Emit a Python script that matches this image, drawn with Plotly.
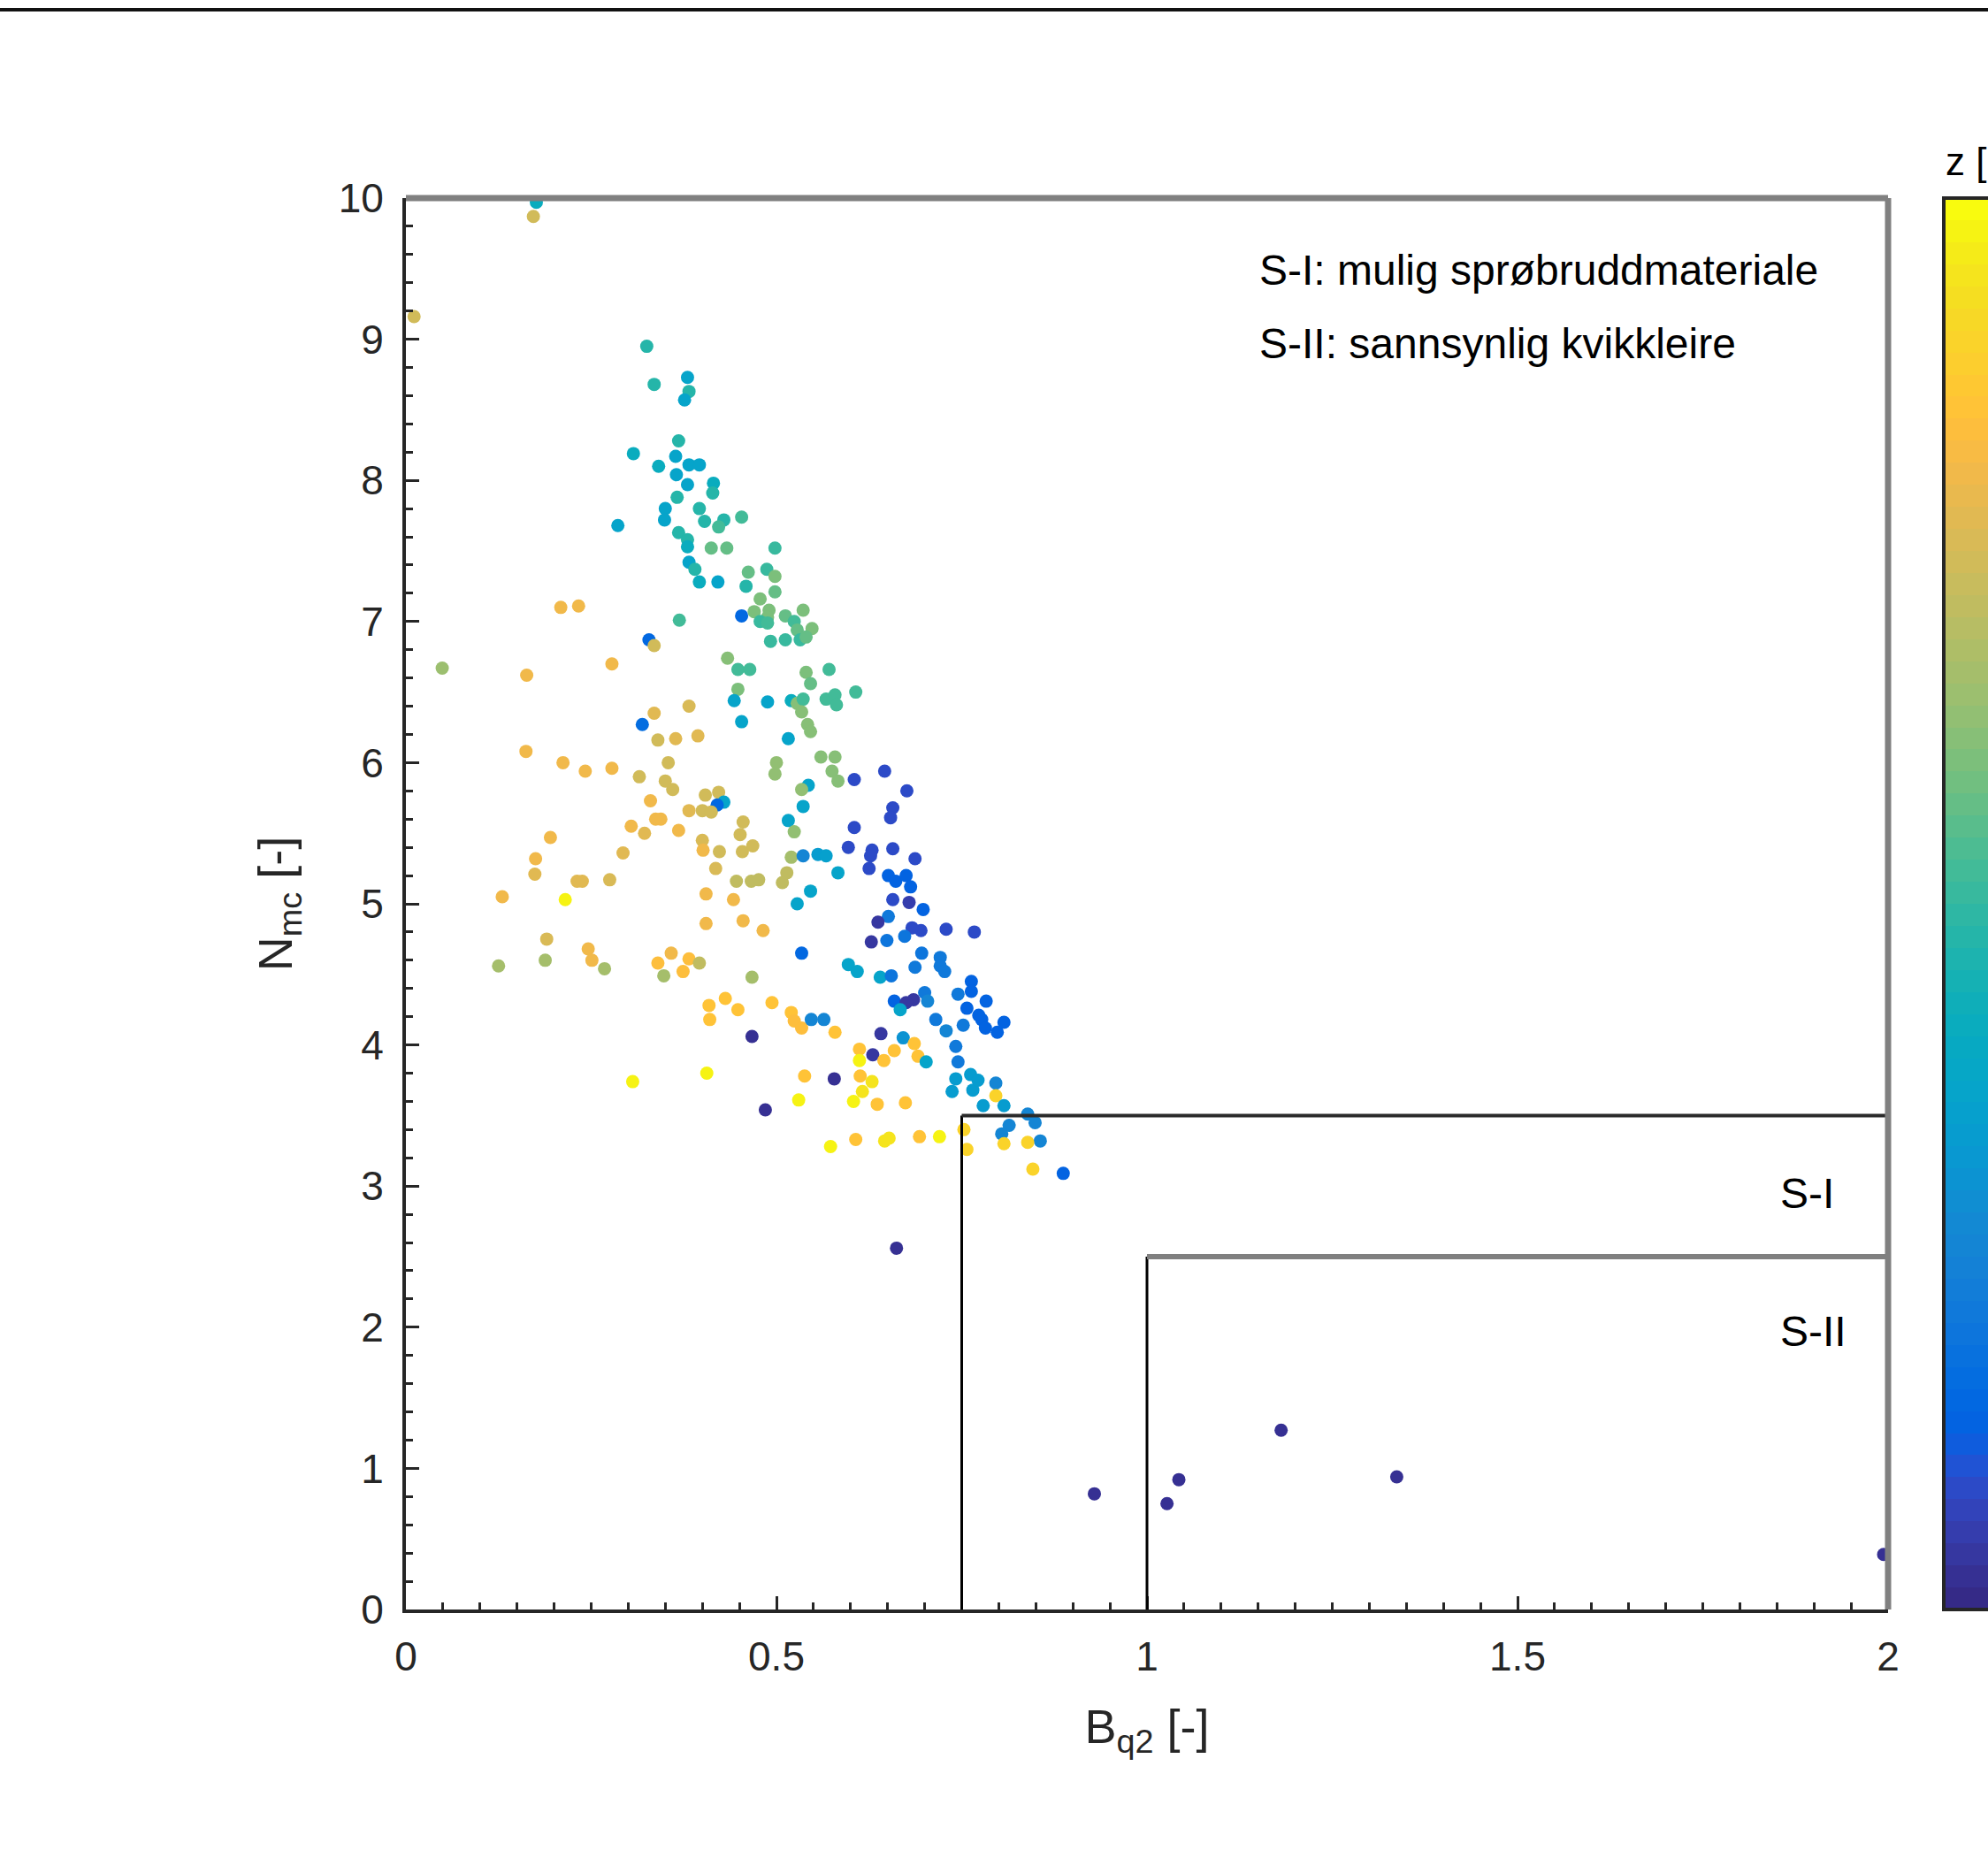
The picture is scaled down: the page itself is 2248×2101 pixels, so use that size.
import plotly.graph_objects as go

# ---- Bq2 / Nmc measurements, grouped by zone of the chart; z = depth [m] ----
bq2_upper = [0.176, 0.172, 0.011, 0.325, 0.335, 0.380, 0.382, 0.376, 0.368, 0.307,
             0.364, 0.382, 0.396, 0.341, 0.365, 0.380, 0.415, 0.414, 0.366, 0.350,
             0.349, 0.396, 0.403, 0.429, 0.422, 0.453, 0.286, 0.368, 0.380, 0.380,
             0.412, 0.433, 0.498, 0.382, 0.390, 0.396, 0.421, 0.462, 0.487, 0.498,
             0.459, 0.498, 0.478, 0.209, 0.233, 0.470, 0.490, 0.488, 0.453, 0.478,
             0.488, 0.512, 0.536, 0.524, 0.548, 0.528, 0.369, 0.328, 0.335, 0.492,
             0.512, 0.532, 0.540]
nmc_upper = [9.97, 9.87, 9.16, 8.95, 8.68, 8.73, 8.63, 8.57, 8.28, 8.19,
             8.17, 8.11, 8.11, 8.10, 8.04, 7.97, 7.98, 7.91, 7.88, 7.80,
             7.72, 7.80, 7.71, 7.72, 7.67, 7.74, 7.68, 7.63, 7.58, 7.53,
             7.52, 7.52, 7.52, 7.42, 7.37, 7.28, 7.28, 7.35, 7.37, 7.32,
             7.25, 7.21, 7.16, 7.10, 7.11, 7.07, 7.08, 7.03, 7.04, 7.00,
             6.99, 7.04, 7.08, 7.00, 6.95, 6.94, 7.01, 6.87, 6.83, 6.86,
             6.87, 6.87, 6.89]
z_upper = [8.4, 14.8, 14.8, 9.4, 9.4, 7.4, 9.4, 7.4, 9.4, 8.4,
           7.4, 7.4, 7.4, 8.4, 7.4, 7.4, 8.4, 9.4, 9.4, 7.4,
           7.4, 9.4, 9.4, 9.4, 10.6, 10.6, 7.4, 9.4, 9.4, 8.4,
           11.4, 11.4, 10.0, 7.4, 9.4, 8.4, 7.4, 11.4, 10.0, 12.0,
           9.4, 11.4, 12.0, 16.0, 16.0, 12.0, 12.0, 12.0, 3.0, 10.0,
           10.6, 11.4, 12.0, 10.6, 12.0, 11.4, 10.6, 3.0, 14.8, 10.0,
           10.0, 10.0, 11.4]

bq2_mid = [0.049, 0.163, 0.278, 0.434, 0.448, 0.464, 0.540, 0.546, 0.571, 0.448,
           0.443, 0.488, 0.520, 0.528, 0.536, 0.567, 0.579, 0.581, 0.607, 0.382,
           0.335, 0.319, 0.534, 0.453, 0.542, 0.546, 0.516, 0.340, 0.364, 0.394,
           0.162, 0.212, 0.242, 0.278, 0.315, 0.354, 0.350, 0.360, 0.500, 0.498,
           0.560, 0.579, 0.575, 0.583, 0.605, 0.543, 0.534, 0.404, 0.422, 0.429,
           0.420, 0.536, 0.330, 0.382, 0.400, 0.412, 0.337, 0.344, 0.516, 0.304,
           0.322, 0.368, 0.455, 0.451, 0.605, 0.524, 0.195, 0.400, 0.401, 0.423,
           0.454, 0.468, 0.597, 0.293, 0.175, 0.174, 0.520, 0.536, 0.556, 0.567,
           0.583, 0.418, 0.231, 0.238, 0.275, 0.446, 0.466, 0.476, 0.508, 0.514,
           0.546, 0.528, 0.130, 0.215, 0.405, 0.442, 0.405, 0.455, 0.482, 0.190,
           0.534, 0.246, 0.251, 0.125, 0.188, 0.268, 0.358, 0.340, 0.382, 0.374,
           0.396, 0.348, 0.467, 0.597, 0.609, 0.409, 0.431, 0.448, 0.494, 0.520]
nmc_mid = [6.67, 6.62, 6.70, 6.74, 6.66, 6.66, 6.64, 6.56, 6.66, 6.52,
           6.44, 6.43, 6.44, 6.42, 6.45, 6.45, 6.48, 6.41, 6.50, 6.40,
           6.35, 6.27, 6.36, 6.29, 6.27, 6.22, 6.17, 6.16, 6.17, 6.19,
           6.08, 6.00, 5.94, 5.96, 5.90, 6.00, 5.87, 5.81, 6.00, 5.92,
           6.04, 6.04, 5.94, 5.87, 5.88, 5.84, 5.81, 5.77, 5.79, 5.72,
           5.70, 5.69, 5.73, 5.66, 5.66, 5.65, 5.60, 5.60, 5.59, 5.55,
           5.50, 5.52, 5.58, 5.49, 5.54, 5.51, 5.47, 5.45, 5.38, 5.37,
           5.37, 5.41, 5.40, 5.36, 5.32, 5.21, 5.33, 5.34, 5.35, 5.34,
           5.22, 5.25, 5.16, 5.16, 5.17, 5.16, 5.16, 5.17, 5.15, 5.22,
           5.09, 5.00, 5.05, 5.03, 5.07, 5.03, 4.86, 4.88, 4.81, 4.75,
           4.65, 4.68, 4.60, 4.56, 4.60, 4.54, 4.65, 4.58, 4.61, 4.52,
           4.58, 4.49, 4.48, 4.57, 4.52, 4.28, 4.33, 4.25, 4.30, 4.23]
z_mid = [13.0, 16.0, 16.0, 12.4, 10.6, 10.6, 12.0, 11.4, 10.6, 12.0,
         7.4, 7.4, 8.4, 12.4, 10.6, 10.6, 10.6, 10.6, 10.6, 15.2,
         15.6, 3.4, 12.4, 7.4, 12.4, 12.4, 7.4, 14.8, 15.4, 15.4,
         16.0, 16.0, 16.0, 16.0, 14.8, 14.8, 14.8, 14.8, 12.8, 12.8,
         12.4, 12.4, 12.4, 12.4, 1.6, 7.4, 12.8, 14.8, 14.8, 7.4,
         3.0, 7.4, 16.0, 15.4, 14.8, 14.8, 16.2, 16.2, 7.4, 16.0,
         15.6, 16.0, 14.8, 14.8, 1.6, 12.8, 16.2, 15.2, 16.0, 14.8,
         14.8, 14.8, 1.6, 15.4, 16.2, 15.4, 13.4, 5.0, 6.6, 7.0,
         7.4, 15.2, 15.6, 15.6, 15.2, 14.2, 14.2, 14.2, 14.2, 14.2,
         7.4, 7.4, 16.2, 19.4, 16.2, 16.2, 16.2, 16.0, 16.0, 15.2,
         3.0, 16.2, 16.2, 13.4, 13.4, 13.4, 16.2, 16.6, 16.6, 16.6,
         14.2, 13.4, 13.4, 7.4, 7.4, 17.0, 17.0, 17.0, 17.0, 17.0]

bq2_right = [0.646, 0.676, 0.657, 0.654, 0.629, 0.627, 0.657, 0.687, 0.625, 0.651,
             0.661, 0.675, 0.681, 0.657, 0.679, 0.698, 0.651, 0.637, 0.695, 0.683,
             0.729, 0.767, 0.673, 0.649, 0.628, 0.696, 0.721, 0.721, 0.727, 0.687,
             0.640, 0.655, 0.763, 0.763, 0.745, 0.783, 0.700, 0.659, 0.685, 0.675,
             0.667, 0.704, 0.757, 0.773, 0.715, 0.777, 0.782, 0.798, 0.807, 0.752,
             0.729, 0.641]
nmc_right = [5.94, 5.80, 5.68, 5.61, 5.38, 5.34, 5.39, 5.32, 5.25, 5.20,
             5.16, 5.20, 5.12, 5.03, 5.01, 4.96, 4.91, 4.87, 4.81, 4.83,
             4.82, 4.80, 4.77, 4.74, 4.73, 4.65, 4.62, 4.56, 4.52, 4.55,
             4.48, 4.49, 4.45, 4.38, 4.36, 4.31, 4.37, 4.31, 4.32, 4.30,
             4.25, 4.31, 4.26, 4.21, 4.18, 4.18, 4.12, 4.09, 4.16, 4.14,
             4.10, 4.08]
z_right = [1.6, 1.6, 1.6, 1.6, 1.6, 1.6, 1.6, 1.6, 1.6, 2.6,
           2.6, 2.6, 2.6, 1.6, 1.0, 2.6, 4.2, 0.8, 1.6, 1.6,
           1.6, 1.6, 4.0, 4.0, 0.8, 4.0, 4.2, 4.2, 4.2, 4.2,
           7.4, 4.0, 2.6, 2.6, 4.2, 2.6, 4.2, 2.8, 0.8, 0.8,
           7.4, 5.0, 2.6, 2.6, 4.2, 2.6, 2.6, 2.6, 2.6, 4.2,
           5.0, 0.8]

bq2_lower = [0.410, 0.524, 0.534, 0.547, 0.564, 0.467, 0.579, 0.671, 0.612, 0.630,
             0.612, 0.645, 0.659, 0.686, 0.691, 0.702, 0.742, 0.745, 0.742, 0.762,
             0.737, 0.765, 0.772, 0.796, 0.796, 0.779, 0.807, 0.839, 0.814, 0.804,
             0.849, 0.856, 0.807, 0.839, 0.753, 0.757, 0.846, 0.887, 0.485, 0.578,
             0.306, 0.406, 0.538, 0.613, 0.629, 0.616, 0.530, 0.604, 0.636, 0.674,
             0.573, 0.607, 0.646, 0.652, 0.693, 0.720, 0.662]
nmc_lower = [4.18, 4.17, 4.12, 4.18, 4.18, 4.06, 4.09, 4.05, 3.97, 3.93,
             3.89, 3.89, 3.96, 4.01, 3.92, 3.88, 3.99, 3.88, 3.76, 3.79,
             3.67, 3.68, 3.75, 3.73, 3.64, 3.57, 3.57, 3.51, 3.43, 3.37,
             3.45, 3.32, 3.30, 3.31, 3.40, 3.26, 3.12, 3.09, 3.54, 3.76,
             3.74, 3.80, 3.78, 3.78, 3.74, 3.67, 3.61, 3.60, 3.58, 3.59,
             3.28, 3.33, 3.32, 3.34, 3.35, 3.35, 2.56]
z_lower = [17.0, 16.6, 16.6, 5.0, 5.0, 0.4, 17.0, 6.0, 17.0, 0.8,
           19.4, 17.0, 17.0, 17.0, 17.0, 7.4, 4.2, 4.2, 6.6, 6.6,
           6.6, 6.6, 6.6, 5.0, 18.0, 6.6, 6.6, 5.0, 5.0, 5.0,
           5.0, 5.0, 18.0, 18.0, 18.0, 18.0, 18.0, 2.6, 0.4, 0.4,
           19.4, 19.4, 17.0, 17.0, 19.0, 19.0, 19.4, 19.4, 17.0, 17.0,
           19.4, 17.0, 19.0, 19.0, 17.0, 19.4, 0.4]

bq2_tail = [0.929, 1.027, 1.043, 1.181, 1.337, 1.994]
nmc_tail = [0.82, 0.75, 0.92, 1.27, 0.94, 0.39]
z_tail = [0.4, 0.4, 0.4, 0.4, 0.4, 0.4]

# ---- classification zones (Bq2 lower limit, Nmc upper limit) ----
zone_names = ["S-I", "S-II"]
zone_bq2 = [0.75, 1.0]
zone_nmc = [3.5, 2.5]
zone_label_x = [1.852, 1.852]
zone_label_y = [2.95, 1.97]

legend_lines = ["S-I: mulig sprøbruddmateriale", "S-II: sannsynlig kvikkleire"]
legend_x = 1.149
legend_y = [9.49, 8.97]

x_ticks = [0, 0.5, 1, 1.5, 2]
x_ticktext = ["0", "0.5", "1", "1.5", "2"]
y_ticks = list(range(0, 11))

# MATLAB parula, 64 steps
PARULA = [
    (0.2081, 0.1663, 0.5292), (0.2116, 0.1898, 0.5777), (0.2123, 0.2138, 0.6270), (0.2081, 0.2386, 0.6771),
    (0.1959, 0.2645, 0.7279), (0.1707, 0.2919, 0.7792), (0.1253, 0.3242, 0.8303), (0.0591, 0.3598, 0.8683),
    (0.0117, 0.3875, 0.8820), (0.0060, 0.4086, 0.8828), (0.0165, 0.4266, 0.8786), (0.0329, 0.4430, 0.8720),
    (0.0498, 0.4586, 0.8641), (0.0629, 0.4737, 0.8554), (0.0723, 0.4887, 0.8467), (0.0779, 0.5040, 0.8384),
    (0.0793, 0.5200, 0.8312), (0.0749, 0.5375, 0.8263), (0.0641, 0.5570, 0.8240), (0.0488, 0.5772, 0.8228),
    (0.0343, 0.5966, 0.8199), (0.0265, 0.6137, 0.8135), (0.0239, 0.6287, 0.8038), (0.0231, 0.6418, 0.7913),
    (0.0228, 0.6535, 0.7768), (0.0267, 0.6642, 0.7607), (0.0384, 0.6743, 0.7436), (0.0590, 0.6838, 0.7254),
    (0.0843, 0.6928, 0.7062), (0.1133, 0.7015, 0.6859), (0.1453, 0.7098, 0.6646), (0.1801, 0.7177, 0.6424),
    (0.2178, 0.7250, 0.6193), (0.2586, 0.7317, 0.5954), (0.3022, 0.7376, 0.5712), (0.3482, 0.7424, 0.5473),
    (0.3953, 0.7459, 0.5244), (0.4420, 0.7481, 0.5033), (0.4871, 0.7491, 0.4840), (0.5300, 0.7491, 0.4661),
    (0.5709, 0.7485, 0.4494), (0.6099, 0.7473, 0.4337), (0.6473, 0.7456, 0.4188), (0.6834, 0.7435, 0.4044),
    (0.7184, 0.7411, 0.3905), (0.7525, 0.7384, 0.3768), (0.7858, 0.7356, 0.3633), (0.8185, 0.7327, 0.3498),
    (0.8507, 0.7299, 0.3360), (0.8824, 0.7274, 0.3217), (0.9139, 0.7258, 0.3063), (0.9450, 0.7261, 0.2886),
    (0.9739, 0.7314, 0.2666), (0.9938, 0.7455, 0.2403), (0.9990, 0.7653, 0.2164), (0.9955, 0.7861, 0.1967),
    (0.9880, 0.8066, 0.1794), (0.9789, 0.8271, 0.1633), (0.9697, 0.8481, 0.1475), (0.9626, 0.8705, 0.1309),
    (0.9589, 0.8949, 0.1132), (0.9598, 0.9218, 0.0948), (0.9661, 0.9514, 0.0755), (0.9763, 0.9831, 0.0538),
]


def stepped_scale(colors):
    n = len(colors)
    scale = []
    for i, (r, g, b) in enumerate(colors):
        c = f"rgb({round(r * 255)},{round(g * 255)},{round(b * 255)})"
        scale.append([i / n, c])
        scale.append([(i + 1) / n, c])
    return scale


bq2 = bq2_upper + bq2_mid + bq2_right + bq2_lower + bq2_tail
nmc = nmc_upper + nmc_mid + nmc_right + nmc_lower + nmc_tail
z_depth = z_upper + z_mid + z_right + z_lower + z_tail
assert len(bq2) == len(nmc) == len(z_depth)

# ---- page geometry (pixels) ----
W, H = 2248, 2101
ML, MR, MT, MB = 459, 113, 224, 281
PW, PH = W - ML - MR, H - MT - MB

FONT = "Liberation Sans, Arial, Helvetica, sans-serif"
INK = "#262626"

fig = go.Figure()

fig.add_trace(go.Scatter(
    x=bq2, y=nmc, mode="markers", showlegend=False, cliponaxis=True,
    marker=dict(
        size=15, color=z_depth, cmin=0, cmax=20,
        colorscale=stepped_scale(PARULA), line=dict(width=0),
        colorbar=dict(
            x=(2198 - ML) / PW, xanchor="left", xpad=0, ypad=0,
            y=0.5, yanchor="middle", len=1, lenmode="fraction",
            thickness=90, outlinewidth=4, outlinecolor=INK,
            ticks="", showticklabels=False,
        ),
    ),
))

shapes = []
# classification boundaries
for bx, ny, col, wid in zip(zone_bq2, zone_nmc, ["#2b2b2b", "#808080"], [4, 6]):
    shapes.append(dict(type="line", xref="x", yref="y", x0=bx, x1=bx, y0=0, y1=ny,
                       line=dict(color="#000000", width=3), layer="above"))
    shapes.append(dict(type="line", xref="x", yref="y", x0=bx, x1=2, y0=ny, y1=ny,
                       line=dict(color=col, width=wid), layer="above"))
# box edges on top and right
shapes.append(dict(type="line", xref="paper", yref="paper", x0=0, x1=1, y0=1, y1=1,
                   line=dict(color="#808080", width=7), layer="above"))
shapes.append(dict(type="line", xref="paper", yref="paper", x0=1, x1=1, y0=0, y1=1,
                   line=dict(color="#808080", width=7), layer="above"))
# rule across the top of the page
shapes.append(dict(type="line", xref="paper", yref="paper",
                   x0=-ML / PW, x1=(W - ML) / PW, y0=1 + (MT - 11) / PH, y1=1 + (MT - 11) / PH,
                   line=dict(color="#111111", width=4), layer="above"))

annotations = []
for txt, yy in zip(legend_lines, legend_y):
    annotations.append(dict(text=txt, x=legend_x, y=yy, xref="x", yref="y",
                            xanchor="left", yanchor="middle", showarrow=False,
                            font=dict(family=FONT, size=48, color="#000000")))
for name, lx, ly in zip(zone_names, zone_label_x, zone_label_y):
    annotations.append(dict(text=name, x=lx, y=ly, xref="x", yref="y",
                            xanchor="left", yanchor="middle", showarrow=False,
                            font=dict(family=FONT, size=48, color="#000000")))
annotations.append(dict(text="z [m]", x=(2198 - ML) / PW, y=1 + (MT - 183) / PH,
                        xref="paper", yref="paper", xanchor="left", yanchor="middle",
                        showarrow=False, font=dict(family=FONT, size=44, color="#000000")))

axis_common = dict(
    showline=True, linecolor=INK, linewidth=4, mirror=False,
    ticks="inside", ticklen=15, tickwidth=3, tickcolor=INK,
    showgrid=False, zeroline=False,
    tickfont=dict(family=FONT, size=46, color=INK),
)

fig.update_layout(
    width=W, height=H,
    margin=dict(l=ML, r=MR, t=MT, b=MB, autoexpand=False),
    paper_bgcolor="white", plot_bgcolor="white",
    font=dict(family=FONT, color=INK),
    xaxis=dict(
        range=[0, 2], tickvals=x_ticks, ticktext=x_ticktext,
        ticklabelstandoff=10,
        minor=dict(dtick=0.05, tick0=0, ticks="inside", ticklen=8, tickwidth=3,
                   tickcolor=INK, showgrid=False),
        title=dict(text="B<sub>q2</sub> [-]", standoff=36,
                   font=dict(family=FONT, size=54, color=INK)),
        **axis_common,
    ),
    yaxis=dict(
        range=[0, 10], tickvals=y_ticks,
        ticklabelstandoff=12,
        minor=dict(dtick=0.2, tick0=0, ticks="inside", ticklen=8, tickwidth=3,
                   tickcolor=INK, showgrid=False),
        title=dict(text="N<sub>mc</sub> [-]", standoff=36,
                   font=dict(family=FONT, size=54, color=INK)),
        **axis_common,
    ),
    shapes=shapes,
    annotations=annotations,
)

fig.write_html("out.html", config={"displayModeBar": False})
